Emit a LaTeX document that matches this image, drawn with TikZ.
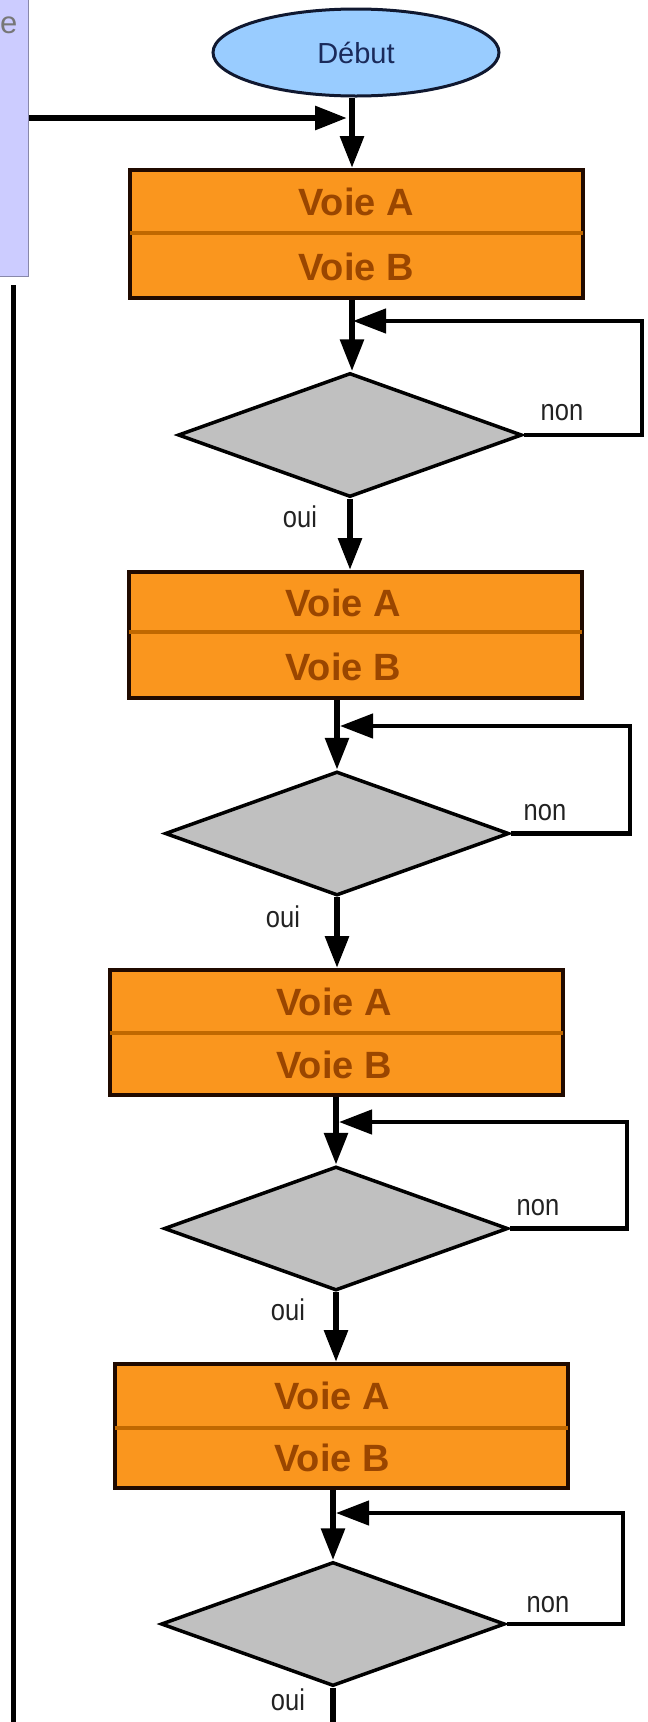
\documentclass[tikz,border=0pt]{standalone}
\usepackage{fontspec}
\setmainfont{Liberation Sans}
\usetikzlibrary{shapes.geometric,arrows.meta}
\definecolor{boxfill}{HTML}{FA961E}
\definecolor{boxline}{HTML}{200A00}
\definecolor{divcol}{HTML}{C06800}
\definecolor{boxtext}{HTML}{9A4600}
\definecolor{ellfill}{HTML}{99CCFF}
\definecolor{ellline}{HTML}{101830}
\definecolor{elltext}{HTML}{1A2A5A}
\definecolor{diafill}{HTML}{C0C0C0}
\definecolor{sidefill}{HTML}{CCCCFF}
\definecolor{sideline}{HTML}{8888AA}
\definecolor{labtext}{HTML}{222222}
\definecolor{sidetext}{HTML}{777777}
\begin{document}
\begin{tikzpicture}[x=1pt,y=-1pt,
  vbox/.style={rectangle,draw=boxline,line width=4pt,fill=boxfill,inner sep=0pt,minimum width=453pt},
  divline/.style={draw=divcol,line width=4.5pt},
  vtext/.style={font=\fontsize{38}{44}\selectfont\bfseries,text=boxtext,inner sep=0pt},
  decision/.style={diamond,draw=black,line width=3.5pt,fill=diafill,inner sep=0pt,minimum width=344pt,minimum height=124pt,aspect=2.75},
  lab/.style={font=\fontsize{30}{36}\selectfont,text=labtext,xscale=0.85,inner sep=0pt},
  arr/.style={draw=black,line width=6pt,-{Triangle[length=32pt,width=23pt]}},
  looparr/.style={draw=black,line width=4.5pt,-{Triangle[length=33pt,width=24pt]}},
  plain/.style={draw=black,line width=5pt}
]
\useasboundingbox (0,0) rectangle (648,1722);

% side panel
\node[rectangle,draw=sideline,line width=1pt,fill=sidefill,minimum width=40pt,minimum height=287pt,anchor=south east,inner sep=0pt] (side) at (29,277) {};
\node[anchor=base east,font=\fontsize{31}{36}\selectfont,text=sidetext,inner sep=0pt] (etext) at (17.5,33) {e};
\coordinate (lt) at (13,285);
\coordinate (lb) at (13,1730);
\draw[plain] (lt) -- (lb);

% start
\node[ellipse,draw=ellline,line width=3pt,fill=ellfill,minimum width=286pt,minimum height=87pt,inner sep=0pt,font=\fontsize{29}{34}\selectfont,text=elltext] (start) at (356,52.5) {Début};
\coordinate (v0) at (352,118);
\coordinate (h0) at (347,118);

% boxes
\node[vbox,minimum height=128pt] (b1) at (356.5,234) {};
\node[vbox,minimum height=126pt] (b2) at (355,635) {};
\node[vbox,minimum height=125pt] (b3) at (336,1032.5) {};
\node[vbox,minimum height=124pt] (b4) at (341,1426) {};
\foreach \b/\dy in {b1/-1,b2/-3,b3/0.5,b4/2}{
  \draw[divline] ([xshift=2pt,yshift=-\dy pt]\b.west) -- ([xshift=-2pt,yshift=-\dy pt]\b.east);
}
\node[vtext] (a1) at (356,202) {Voie A};
\node[vtext] (B1) at (356,267) {Voie B};
\node[vtext] (a2) at (343,603) {Voie A};
\node[vtext] (B2) at (343,667) {Voie B};
\node[vtext] (a3) at (334,1002) {Voie A};
\node[vtext] (B3) at (334,1065) {Voie B};
\node[vtext] (a4) at (332,1396) {Voie A};
\node[vtext] (B4) at (332,1458) {Voie B};

% decisions
\node[decision] (d1) at (350,435) {};
\node[decision] (d2) at (337,833.5) {};
\node[decision] (d3) at (336,1228.5) {};
\node[decision] (d4) at (333,1624) {};

% loop coordinates
\coordinate (j1) at (353,321);   \coordinate (c1) at (642,321);
\coordinate (j2) at (340,726);   \coordinate (c2) at (630,726);
\coordinate (j3) at (339,1122);  \coordinate (c3) at (627,1122);
\coordinate (j4) at (336,1513);  \coordinate (c4) at (623,1513);
\coordinate (endb) at (333,1730);

% connectors
\draw[arr] (side.east |- h0) -- (h0);
\draw[arr] (start.south -| v0) -- (b1.north -| v0);
\draw[arr] (b1.south -| v0) -- (d1.north -| v0);
\draw[looparr] (d1.east) -| (c1) -- (j1);
\draw[arr] (d1.south) -- (d1.south |- b2.north);
\draw[arr] (b2.south -| d2.north) -- (d2.north);
\draw[looparr] (d2.east) -| (c2) -- (j2);
\draw[arr] (d2.south) -- (d2.south |- b3.north);
\draw[arr] (b3.south -| d3.north) -- (d3.north);
\draw[looparr] (d3.east) -| (c3) -- (j3);
\draw[arr] (d3.south) -- (d3.south |- b4.north);
\draw[arr] (b4.south -| d4.north) -- (d4.north);
\draw[looparr] (d4.east) -| (c4) -- (j4);
\draw[plain,line width=6pt] (d4.south) -- (endb);

% labels
\node[lab] (n1) at (562,413) {non};
\node[lab] (n2) at (545,813) {non};
\node[lab] (n3) at (538,1208) {non};
\node[lab] (n4) at (548,1605) {non};
\node[lab] (o1) at (300,517) {oui};
\node[lab] (o2) at (283,917) {oui};
\node[lab] (o3) at (288,1310) {oui};
\node[lab] (o4) at (288,1700) {oui};
\end{tikzpicture}
\end{document}
